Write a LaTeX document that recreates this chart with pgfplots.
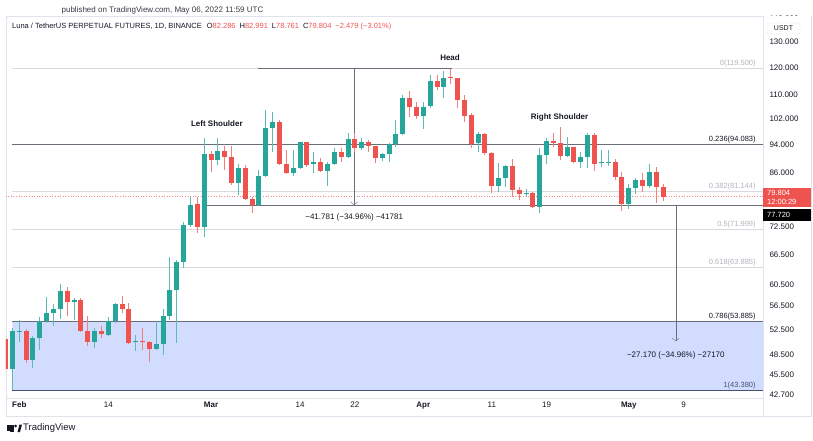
\documentclass[border=0pt]{standalone}
\usepackage{pgfplots}
\pgfplotsset{compat=1.18}
\usepackage{pgfplotstable}
\usepackage{fontspec}
\setmainfont{Liberation Sans}
\usetikzlibrary{arrows.meta}

\definecolor{tvup}{HTML}{26A69A}
\definecolor{tvdown}{HTML}{EF5350}
\definecolor{fibzone}{RGB}{209,220,255}
\definecolor{fiblight}{HTML}{D8DAE0}
\definecolor{fibtxt}{HTML}{B2B5BE}
\definecolor{tooldark}{HTML}{6A6D78}
\definecolor{fibone}{RGB}{72,82,112}
\definecolor{tvtext}{HTML}{131722}
\definecolor{tvgrid}{HTML}{E0E3EB}

% daily candles, d = days since 1 Feb 2022
\pgfplotstableread{
d O H L C
-2 50.93 51.46 45.94 46.32
-1 46.32 52.78 43.38 52.17
0 52.00 54.12 50.50 52.30
1 52.20 52.60 47.26 47.71
2 47.71 51.46 46.52 51.09
3 51.09 54.60 49.24 53.95
4 53.95 58.13 53.56 55.28
5 55.28 56.80 53.00 56.04
6 56.04 60.63 54.30 59.36
7 59.36 60.00 54.80 57.28
8 57.28 57.90 54.10 57.60
9 57.60 58.00 52.00 52.17
10 52.17 54.70 49.76 50.39
11 50.39 52.70 49.50 52.17
12 52.17 53.00 51.10 51.80
13 51.60 54.60 51.50 53.83
14 53.83 57.15 53.56 56.92
15 56.92 58.40 55.30 55.98
16 55.98 57.15 50.20 50.30
17 50.39 51.60 48.98 50.66
18 50.66 52.78 49.24 50.50
19 50.50 50.55 47.31 49.35
20 49.35 53.83 49.13 50.13
21 50.13 55.98 48.36 54.70
22 54.70 66.00 54.12 59.49
23 59.49 65.40 50.34 65.04
24 65.04 73.78 63.70 73.02
25 73.02 79.80 72.50 77.76
26 77.93 79.80 71.13 72.64
27 72.64 95.96 70.38 91.24
28 91.24 92.19 86.37 89.60
29 89.60 95.96 88.20 92.19
30 92.19 93.66 86.84 90.50
31 90.50 93.66 82.82 83.43
32 83.43 88.50 80.26 87.47
33 87.47 88.20 79.00 79.20
34 79.20 79.80 75.76 77.76
35 77.76 86.84 77.50 85.20
36 85.20 104.90 85.00 99.02
37 99.02 104.35 92.00 101.10
38 101.10 101.60 88.20 88.40
39 88.40 92.50 85.70 85.94
40 85.94 92.50 85.20 87.30
41 87.30 94.80 87.00 94.76
42 94.76 94.90 87.60 88.20
43 88.50 92.00 85.94 89.15
44 89.15 90.10 86.40 86.60
45 86.60 89.15 82.56 88.50
46 88.50 93.00 88.20 92.00
47 92.00 93.00 89.15 90.50
48 90.50 97.70 90.10 95.66
49 95.66 97.70 92.00 93.00
50 93.00 96.00 92.50 94.76
51 94.76 95.45 92.00 93.66
52 93.66 93.66 88.80 90.10
53 90.10 91.70 89.40 91.30
54 91.30 94.60 89.15 94.20
55 94.20 101.66 93.45 97.20
56 97.20 109.90 96.98 108.85
57 108.85 111.40 102.70 106.00
58 106.00 107.70 102.00 102.95
59 102.95 107.70 98.80 106.00
60 106.30 117.30 105.50 114.95
61 114.95 117.20 111.70 112.70
62 112.70 118.60 109.00 116.16
63 116.40 119.50 113.80 116.00
64 116.00 116.20 105.50 108.27
65 108.27 110.00 101.10 102.95
66 103.30 103.80 93.10 94.20
67 94.45 98.00 92.00 97.20
68 97.20 97.50 91.00 91.70
69 91.70 92.00 80.69 82.64
70 82.64 88.70 81.10 84.59
71 84.59 88.20 82.40 87.94
72 87.94 89.80 79.70 81.53
73 81.53 82.40 79.00 80.45
74 80.45 81.75 79.90 80.85
75 80.85 81.10 76.90 77.20
76 77.20 92.95 75.76 91.04
77 91.04 96.00 88.50 95.23
78 95.23 97.50 93.45 94.40
79 94.60 99.53 89.70 90.70
80 90.70 96.40 90.50 93.30
81 93.30 93.45 88.65 89.15
82 89.15 92.00 87.30 90.30
83 90.30 97.70 87.30 96.98
84 96.98 97.50 86.60 88.50
85 88.70 92.50 87.60 89.05
86 88.80 92.50 87.80 89.00
87 89.15 89.80 84.00 84.80
88 84.80 86.37 76.40 78.00
89 78.00 83.00 76.70 81.96
90 82.10 84.60 80.50 84.15
91 84.15 85.90 81.10 82.56
92 82.56 88.50 81.96 86.20
93 86.20 87.76 78.20 82.29
94 82.286 82.991 78.761 79.804
}\candles

\pgfplotsset{
  candle/.style={draw=none, mark=none, forget plot,
    error bars/y explicit, error bars/error mark=none},
  up/.style={restrict expr to domain={\thisrow{C}-\thisrow{O}}{0:1000}},
  down/.style={restrict expr to domain={\thisrow{C}-\thisrow{O}}{-1000:-0.00001}},
}

\begin{document}
\begin{tikzpicture}[x=1pt,y=1pt,font=\fontsize{8}{9.6}\selectfont]
\useasboundingbox (0,0) rectangle (813,440);
% pane frame
\draw[tvgrid] (6,24) rectangle (811,424);
\draw[tvgrid] (763,24) -- (763,424);
\begin{axis}[
    at={(6pt,42pt)}, anchor=south west, scale only axis,
    width=757pt, height=382pt,
    xmin=-1.94, xmax=108.6,
    ymode=log, ymin=42.29, ymax=141.1,
    axis line style={draw=tvgrid},
    major tick length=0pt, minor tick num=0,
    xtick={0,13,28,41,49,59,69,77,89,97},
    xticklabels={\textbf{Feb},14,\textbf{Mar},14,22,\textbf{Apr},11,19,\textbf{May},9},
    xticklabel style={font=\fontsize{8}{9.6}\selectfont, text=tvtext},
    ytick={42.7,45.5,48.5,52.5,56.5,60.5,66.5,72.5,86,94,102,110,120,130,140},
    yticklabels={42.700,45.500,48.500,52.500,56.500,60.500,66.500,72.500,86.000,94.000,102.000,110.000,120.000,130.000,140.000},
    yticklabel pos=right,
    yticklabel style={anchor=west, xshift=3pt, font=\fontsize{8}{9.6}\selectfont, text=tvtext},
  ]
  % Fibonacci zone 0.786 - 1
  \addplot[fill=fibzone, draw=none, forget plot] coordinates {(-1,43.38) (108.6,43.38) (108.6,53.885) (-1,53.885) (-1,43.38)};
  % Fibonacci levels
  \addplot[fiblight, forget plot] coordinates {(-1,119.5) (108.6,119.5)};
  \addplot[tooldark, forget plot] coordinates {(-1,94.083) (108.6,94.083)};
  \addplot[fiblight, forget plot] coordinates {(-1,81.144) (108.6,81.144)};
  \addplot[fiblight, forget plot] coordinates {(-1,71.999) (108.6,71.999)};
  \addplot[fiblight, forget plot] coordinates {(-1,63.885) (108.6,63.885)};
  \addplot[tooldark, forget plot] coordinates {(-1,53.885) (108.6,53.885)};
  \addplot[fibone, line width=0.8pt, forget plot] coordinates {(-1,43.38) (108.6,43.38)};
  % last price line
  \addplot[tvdown!70, dotted, line width=0.6pt, forget plot] coordinates {(-2,79.804) (108.6,79.804)};
  % neckline and measures
  \addplot[tooldark, forget plot] coordinates {(27.1,77.72) (108.6,77.72)};
  \addplot[tooldark, forget plot] coordinates {(34.85,119.5) (63.2,119.5)};
  \addplot[tooldark, -{Straight Barb[length=3pt,width=7pt]}, forget plot] coordinates {(48.9,119.5) (48.9,77.72)};
  \addplot[tooldark, -{Straight Barb[length=3pt,width=7pt]}, forget plot] coordinates {(95.87,77.72) (95.87,50.55)};

  % wicks
  \addplot[candle, up, error bars/y dir=both,
    error bars/error bar style={draw=tvup!75, line width=1pt}]
    table[x=d, y=C, y error plus expr=\thisrow{H}-\thisrow{C}, y error minus expr=\thisrow{C}-\thisrow{L}] {\candles};
  \addplot[candle, down, error bars/y dir=both,
    error bars/error bar style={draw=tvdown!75, line width=1pt}]
    table[x=d, y=C, y error plus expr=\thisrow{H}-\thisrow{C}, y error minus expr=\thisrow{C}-\thisrow{L}] {\candles};
  % bodies
  \addplot[candle, up, error bars/y dir=plus,
    error bars/error bar style={draw=tvup, line width=5pt}]
    table[x=d, y=O, y error plus expr=\thisrow{C}-\thisrow{O}] {\candles};
  \addplot[candle, down, error bars/y dir=minus,
    error bars/error bar style={draw=tvdown, line width=5pt}]
    table[x=d, y=O, y error minus expr=\thisrow{O}-\thisrow{C}] {\candles};

  % labels
  \node[font=\fontsize{8}{9.6}\selectfont\bfseries, text=tvtext] at (axis cs:62.9,123.6) {Head};
  \node[font=\fontsize{8}{9.6}\selectfont\bfseries, text=tvtext] at (axis cs:28.85,100.4) {Left Shoulder};
  \node[font=\fontsize{8}{9.6}\selectfont\bfseries, text=tvtext] at (axis cs:78.9,102.6) {Right Shoulder};
  \node[text=tvtext] at (axis cs:48.9,74.65) {−41.781 (−34.96\%) −41781};
  \node[text=tvtext] at (axis cs:95.87,48.3) {−27.170 (−34.96\%) −27170};
  \begin{scope}[every node/.style={anchor=south east, inner sep=1pt, font=\fontsize{7.5}{9}\selectfont}]
    \node[text=fibtxt] at (axis cs:107.7,119.5) {0(119.500)};
    \node[text=tvtext] at (axis cs:107.7,94.083) {0.236(94.083)};
    \node[text=fibtxt] at (axis cs:107.7,81.144) {0.382(81.144)};
    \node[text=fibtxt] at (axis cs:107.7,71.999) {0.5(71.999)};
    \node[text=fibtxt] at (axis cs:107.7,63.885) {0.618(63.885)};
    \node[text=tvtext] at (axis cs:107.7,53.885) {0.786(53.885)};
    \node[text=fibone] at (axis cs:107.7,43.38) {1(43.380)};
  \end{scope}
\end{axis}
% price axis tags
\fill[white] (764,419) rectangle (811,423.5);
\draw[tvgrid, fill=white, rounded corners=2pt] (767,406) rectangle (800,417);
\node[text=tvtext, font=\fontsize{7}{8}\selectfont] at (783.5,411.5) {USDT};
\fill[tvdown] (763,233) rectangle (811,252);
\node[text=white, anchor=west, font=\fontsize{7.5}{9}\selectfont, inner sep=0pt] at (767,247) {79.804};
\node[text=white, anchor=west, font=\fontsize{7.5}{9}\selectfont, inner sep=0pt] at (767,238) {12:00:29};
\fill[black] (763,219) rectangle (811,231);
\node[text=white, anchor=west, font=\fontsize{7.5}{9}\selectfont, inner sep=0pt] at (767,225) {77.720};
% header
\node[text=tvtext!85, font=\fontsize{8}{9.6}\selectfont] at (162.5,430) {published on TradingView.com, May 06, 2022 11:59 UTC};
\node[anchor=west, inner sep=0pt, text=tvtext, font=\fontsize{7.5}{9}\selectfont] at (12,413)
  {Luna / TetherUS PERPETUAL FUTURES, 1D, BINANCE\hspace{5pt}O\textcolor{tvdown}{82.286}\hspace{4pt}H\textcolor{tvdown}{82.991}\hspace{4pt}L\textcolor{tvdown}{78.761}\hspace{4pt}C\textcolor{tvdown}{79.804}\hspace{4pt}\textcolor{tvdown}{−2.479 (−3.01\%)}};
% TradingView logo
\fill[tvtext] (7,15.5) rectangle (13.5,9.5);
\fill[tvtext] (10,9.5) rectangle (13.5,8);
\fill[tvtext] (15.6,14) circle (1.5);
\fill[tvtext] (17.5,8) -- (19.5,15.5) -- (22,15.5) -- (20,8) -- cycle;
\node[anchor=west, inner sep=0pt, text=tvtext, font=\fontsize{9.5}{11}\selectfont] at (23,12) {TradingView};
\end{tikzpicture}
\end{document}
